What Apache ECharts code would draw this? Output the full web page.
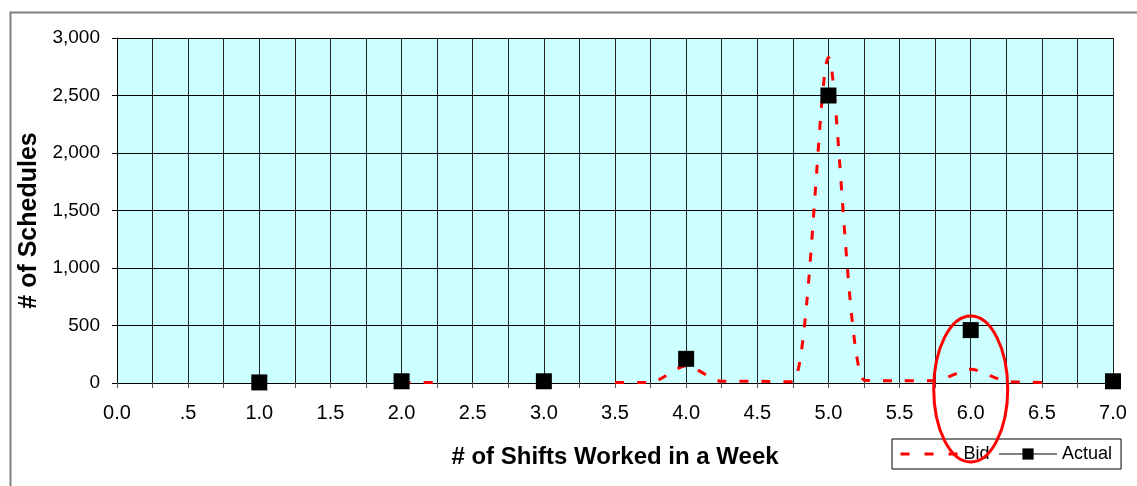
<!DOCTYPE html>
<html>
<head>
<meta charset="utf-8">
<script src="https://cdn.jsdelivr.net/npm/echarts@6/dist/echarts.min.js"></script>
<style>
html,body{margin:0;padding:0;background:#fff;}
#chart{width:1137px;height:486px;}
</style>
</head>
<body>
<div id="chart"></div>
<script>
// ---- data ----
const bidX = [2.0, 2.25, 2.5, 2.75, 3.0, 3.25, 3.5, 3.75, 4.0, 4.25, 4.5, 4.75, 5.0, 5.25, 5.5, 5.75, 6.0, 6.25, 6.5];
const bidY = [5, 5, null, null, null, null, 5, 5, 150, 15, 15, 10, 2830, 25, 20, 20, 120, 15, 5];
const actualX = [1.0, 2.0, 3.0, 4.0, 5.0, 6.0, 7.0];
const actualY = [5, 15, 15, 210, 2500, 460, 15];
const seriesNames = ['Bid', 'Actual'];
const xTitle = '# of Shifts Worked in a Week';
const yTitle = '# of Schedules';
const highlightX = 6.0;

const font = 'Liberation Sans, Arial, sans-serif';
const chart = echarts.init(document.getElementById('chart'));

function xLabel(v) {
  const r = Math.round(v * 4) / 4;
  if (Math.abs(r * 2 - Math.round(r * 2)) > 1e-6) return '';
  if (Math.abs(r - 0.5) < 1e-6) return '.5';
  return r.toFixed(1);
}

chart.setOption({
  animation: false,
  backgroundColor: '#fff',
  grid: { left: 117, right: 24, top: 38, bottom: 103, show: true, backgroundColor: '#CCFFFF', borderWidth: 0 },
  xAxis: {
    type: 'value', min: 0, max: 7, interval: 0.25,
    name: xTitle, nameLocation: 'middle', nameGap: 62,
    nameTextStyle: { fontFamily: font, fontWeight: 'bold', fontSize: 24, color: '#000' },
    axisLine: { show: true, onZero: false, lineStyle: { color: '#000', width: 1 } },
    axisTick: { show: true, length: 5, inside: false, lineStyle: { color: '#555' } },
    axisLabel: { formatter: xLabel, fontFamily: font, fontSize: 20, color: '#000', margin: 20, showMaxLabel: true, showMinLabel: true },
    splitLine: { show: true, lineStyle: { color: '#222', width: 1 } }
  },
  yAxis: {
    type: 'value', min: 0, max: 3000, interval: 500,
    name: yTitle, nameLocation: 'middle', nameGap: 72, nameRotate: 90,
    nameTextStyle: { fontFamily: font, fontWeight: 'bold', fontSize: 25, color: '#000', padding: [0, 20, 0, 0] },
    axisLine: { show: true, lineStyle: { color: '#000', width: 1 } },
    axisTick: { show: true, length: 5, lineStyle: { color: '#000' } },
    axisLabel: { fontFamily: font, fontSize: 19, color: '#000', margin: 17,
      formatter: v => v.toLocaleString('en-US') },
    splitLine: { show: true, lineStyle: { color: '#000', width: 1 } }
  },
  legend: {
    left: 892, top: 439, orient: 'horizontal',
    borderColor: '#000', borderWidth: 1, borderRadius: 0,
    padding: [6, 9, 6, 7], itemGap: 9, itemWidth: 58, itemHeight: 14,
    textStyle: { fontFamily: font, fontSize: 18, color: '#000' },
    data: [
      { name: seriesNames[0], itemStyle: { opacity: 0 }, lineStyle: { type: [9, 15], width: 3, color: '#FF0000' } },
      { name: seriesNames[1], lineStyle: { opacity: 1, width: 1, color: '#000' } }
    ]
  },
  series: [
    {
      name: seriesNames[0], type: 'line', smooth: 0.25, connectNulls: false,
      showSymbol: false, symbol: 'none',
      data: bidX.map((x, i) => [x, bidY[i]]),
      lineStyle: { color: '#FF0000', width: 3, type: [9, 13] },
      itemStyle: { color: '#FF0000' },
      z: 3
    },
    {
      name: seriesNames[1], type: 'line',
      symbol: 'rect', symbolSize: 16, showSymbol: true,
      data: actualX.map((x, i) => [x, actualY[i]]),
      lineStyle: { opacity: 0, color: '#000' },
      itemStyle: { color: '#000' },
      z: 4
    }
  ]
});

const c = chart.convertToPixel({ gridIndex: 0 }, [highlightX, 0]);
chart.setOption({
  graphic: [
    { type: 'rect', left: 8, top: 10, shape: { x: 0, y: 0, width: 1140, height: 490 }, style: { fill: 'none', stroke: '#808080', lineWidth: 2 }, silent: true, z: 0 },
    { type: 'ellipse', shape: { cx: c[0], cy: c[1] + 6, rx: 37, ry: 73 }, style: { fill: 'none', stroke: '#FF0000', lineWidth: 3 }, z: 100 }
  ]
});
</script>
</body>
</html>
